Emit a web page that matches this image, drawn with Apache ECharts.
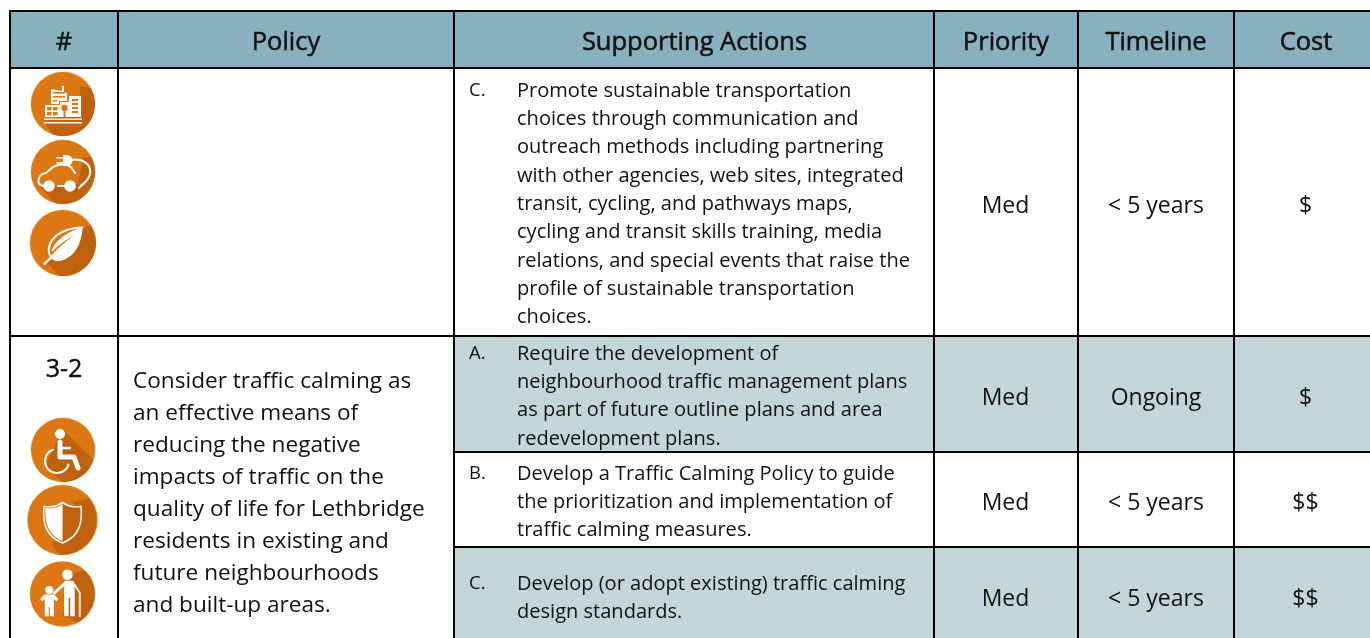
<!DOCTYPE html>
<html><head><meta charset="utf-8">
<style>html,body{margin:0;padding:0;background:#fff}#c{width:1370px;height:638px}</style>
<script src="https://cdn.jsdelivr.net/npm/echarts@6/dist/echarts.min.js"></script>
</head><body><div id="c"></div>
<script>
const headers = ['#','Policy','Supporting Actions','Priority','Timeline','Cost'];
const rowLabel = '3-2';
const policyLines = ['Consider traffic calming as','an effective means of','reducing the negative','impacts of traffic on the','quality of life for Lethbridge','residents in existing and','future neighbourhoods','and built-up areas.'];
const actionLetters = ['C.','A.','B.','C.'];
const actionLines = [
 ['Promote sustainable transportation','choices through communication and','outreach methods including partnering','with other agencies, web sites, integrated','transit, cycling, and pathways maps,','cycling and transit skills training, media','relations, and special events that raise the','profile of sustainable transportation','choices.'],
 ['Require the development of','neighbourhood traffic management plans','as part of future outline plans and area','redevelopment plans.'],
 ['Develop a Traffic Calming Policy to guide','the prioritization and implementation of','traffic calming measures.'],
 ['Develop (or adopt existing) traffic calming','design standards.']
];
const priorities = ['Med','Med','Med','Med'];
const timelines = ['< 5 years','Ongoing','< 5 years','< 5 years'];
const costs = ['$','$','$$','$$'];

const FONT = '"Open Sans"';
const colX = [10,118,454,934,1078,1234,1372];
const rowY = [11,68,336,452,547,640];
const actionFirstY = [91,354,474,584];
const rowMidY = [206,398,503,599];
const els = [];
const BLACK='#000', INK='#111';
function rect(x,y,w,h,fill){els.push({type:'rect',shape:{x,y,width:w,height:h},style:{fill},silent:true});}
function text(t,x,y,size,align,stroke,sx){els.push({type:'text',x,y,scaleX:sx||1,silent:true,style:{text:t,fill:INK,stroke:stroke?INK:'none',lineWidth:stroke||0,font:'normal '+size+'px '+FONT,textAlign:align||'left',textVerticalAlign:'middle'}});}

rect(colX[0],rowY[0],1372-colX[0],rowY[1]-rowY[0],'#88B0BE');
rect(colX[2],rowY[2],1372-colX[2],rowY[3]-rowY[2],'#C4D5D8');
rect(colX[2],rowY[4],1372-colX[2],rowY[5]-rowY[4],'#C4D5D8');

colX.slice(0,6).forEach(x=>rect(x-1,10,2,628,BLACK));
rect(9,10,1363,2,BLACK); rect(9,67,1363,2,BLACK); rect(9,335,1363,2,BLACK);
rect(colX[2],451,1372-colX[2],2,BLACK); rect(colX[2],546,1372-colX[2],2,BLACK);

const headCx=[64,286,694.5,1006,1156,1306];
headers.forEach((h,i)=>text(h,headCx[i],43,25.5,'center',0.5,1));
text(rowLabel,64,370,25,'center',0.4);
policyLines.forEach((l,i)=>text(l,133,382+i*31.9,22.6));
actionLines.forEach((ls,r)=>{
  text(actionLetters[r],469,actionFirstY[r],18.5);
  ls.forEach((l,i)=>text(l,517,actionFirstY[r]+i*28.35,19.5,'left',0,1.028));
  text(priorities[r],1005.5,rowMidY[r],23,'center');
  text(timelines[r],1156,rowMidY[r],23,'center');
  text(costs[r],1305.5,rowMidY[r],23,'center');
});

// icons: local coordinates, r=32
const OR='#DC7713', DK='#BF610E', W='#FFFFFF';
const P=(d,fill,stroke,lw)=>({type:'path',shape:{pathData:d},style:{fill:fill||'none',stroke:stroke||'none',lineWidth:lw||0,lineCap:'round',lineJoin:'round'}});
const C=(x,y,r,fill)=>({type:'circle',shape:{cx:x,cy:y,r},style:{fill:fill||W}});
const R=(x,y,w,h,fill)=>({type:'rect',shape:{x,y,width:w,height:h},style:{fill:fill||W}});
const icons=[];
function icon(cx,cy,r,shadow,parts){
  const k=r/32, ch=[
    {type:'circle',shape:{cx:0,cy:0,r:32.7},style:{fill:'#F9DDBF'}},
    {type:'circle',shape:{cx:0,cy:0,r:32},style:{fill:OR}},
    P(shadow,DK)
  ].concat(parts);
  ch.forEach(c=>c.silent=true);
  icons.push({type:'group',x:cx,y:cy,scaleX:k,scaleY:k,silent:true,children:ch});
}

icon(63,104,32,'M17 -18 L28 -15.5 A32 32 0 0 1 -10 30.4 L-19 18 L17 5 Z',[
  P('M-12 0 L-12 -15 L-1 -13 L-1 -18 L1 -18 L1 -12 L4 -11 L4 -3 L-4 -3 L-4 0 Z',W),
  R(-10,-12,12,1.6,OR),R(-10,-8,12,1.6,OR),R(-10,-4,4,1.6,OR),
  R(-18,1,15,12),R(-16,3,4.5,3.4,OR),R(-10,3,4.5,3.4,OR),R(-16,8,4.5,3.4,OR),R(-10,8,4.5,3.4,OR),
  R(-3,-2,9,15),C(1.5,4,3.2,OR),R(0.5,5,2,8,OR),
  R(6,-8,12,21),R(9,-5,6,2.2,OR),R(9,-1,6,2.2,OR),R(9,3,6,2.2,OR),R(9,7,6,2.2,OR),
  R(-19,14.5,38,1.6),R(-19,18,38,1.6)
]);
icon(63,172,32,'M20 -14 L28 -15.4 A32 32 0 0 1 -8 31 L-24 14 L15 12 Z',[
  P('M-24 12 C-26 5 -22 2 -17 1 L-10 -5 C-4 -8 3 -8 8 -5 L12 1',null,W,2),
  P('M-24 12 L-20 14 M-5 14 L2 14',null,W,2),
  P('M8 -12 C20 -14 29 -7 27 2 C25 10 20 11 16 16',null,W,2),
  C(-14,14,5.8),C(7,14,5.8),
  P('M0 -17 L4 -17 A5.5 5.5 0 0 1 4 -6 L0 -6 Z',W),R(-7,-15,7,1.6),R(-7,-10,7,1.6)
]);
icon(63,243,33,'M21 -16 L27 -17 A32 32 0 0 1 -4 31.8 L-16 18 Z',[
  P('M19 -15 C5 -15 -9 -9 -13 2 C-15 8 -13 12 -11 14',null,W,2),
  P('M-18 20 L-10 13',null,W,2.4),
  P('M19 -15 C18 0 12 15 -4 17.5 C-8 18 -11 16 -12 13 C-6 6 2 -1 11 -8 C3 -3 -5 2 -11 9 C-10 -1 5 -12 19 -15 Z',W)
]);
icon(63,450,32,'M0 -20 L30.5 9.5 A32 32 0 0 1 -1 32 L-18 15 Z',[
  C(-3,-16,5),
  P('M-3 -8 L-3 7 L11 7 L15 18',null,W,5),
  P('M-3 -2 L7 -2',null,W,2.4),
  P('M-10 -0.3 A12 12 0 1 0 5.5 14.6',null,W,2)
]);
icon(62.5,520,35,'M10 -16 L24 -20 A32 32 0 0 1 -3 31.8 L-10 21 L15 10 Z',[
  P('M0 -16 C5 -12.5 12 -11.5 17 -12.5 C18 0 17 14.5 0 21 Z',DK),
  P('M0 -14.5 C-5 -11 -11 -10 -15.5 -11 C-16 -1 -15 13 0 19 L0 -14.5 Z',W),
  P('M0 -16 C-5 -12.5 -12 -11.5 -17 -12.5 C-18 0 -17 14.5 0 21 C17 14.5 18 0 17 -12.5 C12 -11.5 5 -12.5 0 -16 Z',null,W,1.4)
]);
icon(62.5,594,32.5,'M8 -20 L22 -23 A32 32 0 0 1 15 28 L0 22 Z',[
  C(4.8,-19,5.2),
  P('M2 -13 L9 -13 Q12 -13 12 -9 L12 22 L7.6 22 L7.6 4 L6 4 L6 22 L1.6 22 L1.6 -5 Z',W),
  P('M3 -11 L-8 -1',null,W,3),
  P('M12 -9 L17 -1 L17 22',null,W,1.8),
  C(-13,-4,4),
  P('M-22 5 L-18 0.5 L-8 0.5 L-4 5 L-6 7.5 L-8.5 5 L-8.5 22 L-12.4 22 L-12.4 13 L-13.6 13 L-13.6 22 L-17.5 22 L-17.5 5 L-20 7.5 Z',W)
]);

const chart = echarts.init(document.getElementById('c'),null,{renderer:'canvas'});
chart.setOption({animation:false,backgroundColor:'#fff',graphic:{elements:els},
  series:[{type:'custom',coordinateSystem:'none',silent:true,z:10,clip:false,
    data:icons.map((_,i)=>[i]),
    renderItem:(p)=>icons[p.dataIndex]}]});
</script></body></html>
